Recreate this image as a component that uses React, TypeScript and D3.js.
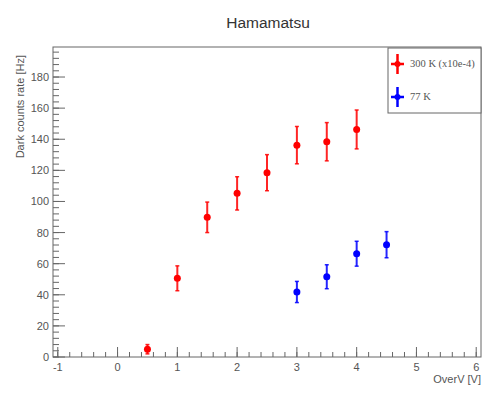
import * as d3 from "d3";

// 300 K series (scaled x10e-4)
const redX = [0.5, 1, 1.5, 2, 2.5, 3, 3.5, 4];
const redY = [5, 50.6, 89.8, 105.2, 118.5, 136.2, 138.4, 146.3];
const redErr = [3, 8, 9.8, 10.7, 11.6, 12, 12.3, 12.5];

// 77 K series
const blueX = [3, 3.5, 4, 4.5];
const blueY = [41.8, 51.6, 66.4, 72.2];
const blueErr = [6.8, 7.7, 8, 8.4];

const xMajor = [-1, 0, 1, 2, 3, 4, 5, 6];
const yMajor = [0, 20, 40, 60, 80, 100, 120, 140, 160, 180];

const W = 488;
const H = 398;
const m = { left: 53, right: 7, top: 47, bottom: 41 };
const AXIS = "#666";
const TEXT = "#555";

export default function App() {
  const x = d3.scaleLinear().domain([-1.08, 6.08]).range([m.left, W - m.right]);
  const y = d3.scaleLinear().domain([0, 199.3]).range([H - m.bottom, m.top]);
  const x0 = m.left, x1 = W - m.right, y0 = H - m.bottom, y1 = m.top;

  const xMinor = d3.range(-1, 6.0001, 0.2).filter(v => v >= -1.08 && v <= 6.08);
  const yMinor = d3.range(0, 199.3, 4);

  const series = [
    { xs: redX, ys: redY, es: redErr, color: "#ff0000" },
    { xs: blueX, ys: blueY, es: blueErr, color: "#0000ff" },
  ];

  const legend = [
    { label: "300 K (x10e-4)", color: "#ff0000", cy: 64 },
    { label: "77 K", color: "#0000ff", cy: 97 },
  ];

  return (
    <svg width={W} height={H} style={{ position: "absolute", left: 0, top: 0, fontFamily: "Liberation Sans, Arial, sans-serif" }}>
      <rect width={W} height={H} fill="#fff" />

      {/* Title */}
      <text x={268} y={28} textAnchor="middle" fontSize={15.5} fill="#333">Hamamatsu</text>

      {/* Frame */}
      <rect x={x0} y={y1} width={x1 - x0} height={y0 - y1} fill="none" stroke={AXIS} strokeWidth={1} />

      {/* X ticks */}
      {xMinor.map((v, i) => (
        <line key={"xm" + i} x1={x(v)} x2={x(v)} y1={y0} y2={y0 - 5} stroke={AXIS} />
      ))}
      {xMajor.map(v => (
        <g key={"xM" + v}>
          <line x1={x(v)} x2={x(v)} y1={y0} y2={y0 - 10} stroke={AXIS} />
          <text x={x(v)} y={y0 + 14} textAnchor="middle" fontSize={11} fill={TEXT}>{v === -1 ? "-1" : v}</text>
        </g>
      ))}

      {/* Y ticks */}
      {yMinor.map((v, i) => (
        <line key={"ym" + i} x1={x0} x2={x0 + 6} y1={y(v)} y2={y(v)} stroke={AXIS} />
      ))}
      {yMajor.map(v => (
        <g key={"yM" + v}>
          <line x1={x0} x2={x0 + 12} y1={y(v)} y2={y(v)} stroke={AXIS} />
          <text x={x0 - 4} y={y(v) + 4} textAnchor="end" fontSize={11} fill={TEXT}>{v}</text>
        </g>
      ))}

      {/* Axis titles */}
      <text x={x1} y={383} textAnchor="end" fontSize={11} fill={TEXT}>OverV [V]</text>
      <text transform={`translate(24,${y1 + 8}) rotate(-90)`} textAnchor="end" fontSize={11} fill={TEXT}>Dark counts rate [Hz]</text>

      {/* Data */}
      {series.map((s, si) => (
        <g key={"s" + si}>
          {s.xs.map((xv, i) => {
            const cx = x(xv);
            const top = y(s.ys[i] + s.es[i]);
            const bot = Math.min(y(s.ys[i] - s.es[i]), y0);
            return (
              <g key={i}>
                <line x1={cx} x2={cx} y1={top} y2={bot} stroke={s.color} strokeWidth={2} opacity={0.85} />
                <line x1={cx - 2} x2={cx + 2} y1={top} y2={top} stroke={s.color} strokeWidth={1.5} opacity={0.85} />
                {bot < y0 && <line x1={cx - 2} x2={cx + 2} y1={bot} y2={bot} stroke={s.color} strokeWidth={1.5} opacity={0.85} />}
                <circle cx={cx} cy={y(s.ys[i])} r={3.5} fill={s.color} />
              </g>
            );
          })}
        </g>
      ))}

      {/* Legend */}
      <rect x={388} y={48} width={x1 - 388} height={65} fill="#fff" stroke={AXIS} strokeWidth={1} />
      {legend.map(l => (
        <g key={l.label}>
          <line x1={391} x2={404} y1={l.cy} y2={l.cy} stroke={l.color} strokeWidth={2.5} />
          <line x1={397.5} x2={397.5} y1={l.cy - 10} y2={l.cy + 10} stroke={l.color} strokeWidth={2.5} />
          <circle cx={397.5} cy={l.cy} r={3} fill={l.color} />
          <text x={410} y={l.cy + 3} fontSize={10.5} fill={TEXT} fontFamily="Liberation Serif, serif">{l.label}</text>
        </g>
      ))}
    </svg>
  );
}
